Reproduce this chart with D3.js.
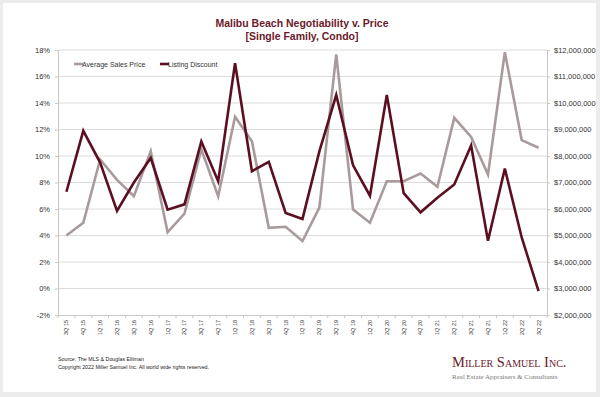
<!DOCTYPE html>
<html>
<head>
<meta charset="utf-8">
<script src="https://cdnjs.cloudflare.com/ajax/libs/d3/7.8.5/d3.min.js"></script>
<style>
  html, body { margin: 0; padding: 0; background: #ececec; }
  #chart { width: 600px; height: 397px; }
  text { font-family: "Liberation Sans", Arial, sans-serif; }
</style>
</head>
<body>
<div id="chart"></div>
<script>
// data
const quarters = ["3Q 15","4Q 15","1Q 16","2Q 16","3Q 16","4Q 16","1Q 17","2Q 17","3Q 17","4Q 17",
  "1Q 18","2Q 18","3Q 18","4Q 18","1Q 19","2Q 19","3Q 19","4Q 19","1Q 20","2Q 20","3Q 20","4Q 20",
  "1Q 21","2Q 21","3Q 21","4Q 21","1Q 22","2Q 22","3Q 22"]
const avgPrice = [5000000, 5480000, 7870000, 7100000, 6480000, 8180000, 5120000, 5830000, 8250000, 6480000,
  9480000, 8560000, 5290000, 5330000, 4790000, 6050000, 11830000, 5980000, 5480000, 7050000, 7050000, 7340000,
  6840000, 9440000, 8720000, 7300000, 11920000, 8600000, 8310000]
const listingDiscount = [7.3, 11.9, 9.5, 5.85, 8.0, 9.85, 5.95, 6.35, 11.1, 8.1,
  17.0, 8.85, 9.55, 5.7, 5.25, 10.35, 14.6, 9.3, 7.0, 14.6, 7.2, 5.75,
  6.85, 7.85, 10.8, 3.6, 9.05, 3.85, -0.2]
const pctTicks = [-2, 0, 2, 4, 6, 8, 10, 12, 14, 16, 18]
const priceTicks = [2, 3, 4, 5, 6, 7, 8, 9, 10, 11, 12].map(d => d * 1000000)

const width = 600
const height = 397
const margins = {top: 50, right: 53, bottom: 82, left: 58}
const boundedWidth = width - margins.left - margins.right
const boundedHeight = height - margins.top - margins.bottom

const priceColor = "#a99b9b"
const discountColor = "#5c0f20"
const titleColor = "#6a1a2b"
const sans = "'Liberation Sans', Arial, sans-serif"
const serif = "'Liberation Serif', 'DejaVu Serif', serif"

const svg = d3.select("#chart").append("svg")
  .attr("width", width)
  .attr("height", height)

// card
svg.append("rect")
  .attr("x", 3).attr("y", 3)
  .attr("width", width - 7).attr("height", height - 8)
  .attr("fill", "white")

// title
svg.append("text")
  .attr("x", 302).attr("y", 27)
  .attr("text-anchor", "middle")
  .attr("font-size", 10.5).attr("font-weight", "bold")
  .attr("fill", titleColor)
  .text("Malibu Beach Negotiability v. Price")
svg.append("text")
  .attr("x", 302).attr("y", 40)
  .attr("text-anchor", "middle")
  .attr("font-size", 10.5).attr("font-weight", "bold")
  .attr("fill", titleColor)
  .text("[Single Family, Condo]")

const bounds = svg.append("g")
  .attr("transform", `translate(${margins.left}, ${margins.top})`)

// scales
const xScale = d3.scaleBand()
  .domain(quarters)
  .range([0, boundedWidth])
const xPos = d => xScale(d) + xScale.bandwidth() / 2

const yScale = d3.scaleLinear()
  .domain([-2, 18])
  .range([boundedHeight, 0])

const priceScale = d3.scaleLinear()
  .domain([2000000, 12000000])
  .range([boundedHeight, 0])

// gridlines
bounds.append("g")
  .selectAll("line")
  .data(pctTicks.filter(d => d > -2))
  .join("line")
    .attr("x1", 0).attr("x2", boundedWidth)
    .attr("y1", d => yScale(d)).attr("y2", d => yScale(d))
    .attr("stroke", "#dcdcdc").attr("stroke-width", 1)

// left axis
const yAxis = bounds.append("g")
  .call(d3.axisLeft(yScale).tickValues(pctTicks).tickFormat(d => d + "%").tickSize(3).tickPadding(5))
yAxis.select(".domain").attr("stroke", "#c8c8c8")
yAxis.selectAll(".tick line").attr("stroke", "#c8c8c8")
yAxis.selectAll("text").attr("font-size", 7.5).attr("fill", "#333").style("font-family", sans)

// right axis
const priceAxis = bounds.append("g")
  .attr("transform", `translate(${boundedWidth}, 0)`)
  .call(d3.axisRight(priceScale).tickValues(priceTicks).tickFormat(d3.format("$,.0f")).tickSize(3).tickPadding(4))
priceAxis.select(".domain").attr("stroke", "#c8c8c8")
priceAxis.selectAll(".tick line").attr("stroke", "#c8c8c8")
priceAxis.selectAll("text").attr("font-size", 7.5).attr("fill", "#333").style("font-family", sans)

// bottom axis
const xAxis = bounds.append("g")
  .attr("transform", `translate(0, ${boundedHeight})`)
  .call(d3.axisBottom(xScale).tickSize(0).tickPadding(0))
xAxis.select(".domain").attr("stroke", "#c8c8c8")
xAxis.selectAll(".tick text")
  .attr("font-size", 5.5).attr("fill", "#333")
  .style("font-family", sans)
  .attr("transform", "rotate(-90)")
  .attr("text-anchor", "end")
  .attr("x", -5).attr("y", 0).attr("dy", "0.35em")
// tick marks between categories
xAxis.append("g")
  .selectAll("line")
  .data(quarters.concat(["end"]))
  .join("line")
    .attr("x1", (d, i) => i * xScale.bandwidth())
    .attr("x2", (d, i) => i * xScale.bandwidth())
    .attr("y1", 0).attr("y2", 3)
    .attr("stroke", "#c8c8c8")

// lines
const priceLine = d3.line()
  .x((d, i) => xPos(quarters[i]))
  .y(d => priceScale(d))
const discountLine = d3.line()
  .x((d, i) => xPos(quarters[i]))
  .y(d => yScale(d))

bounds.append("path")
  .datum(avgPrice)
  .attr("d", priceLine)
  .attr("fill", "none")
  .attr("stroke", priceColor)
  .attr("stroke-width", 2.6)
  .attr("stroke-linejoin", "miter")

bounds.append("path")
  .datum(listingDiscount)
  .attr("d", discountLine)
  .attr("fill", "none")
  .attr("stroke", discountColor)
  .attr("stroke-width", 2.6)
  .attr("stroke-linejoin", "miter")

// legend
const legend = svg.append("g").attr("transform", "translate(74, 64)")
const legendItems = [
  {label: "Average Sales Price", color: priceColor, x: 0},
  {label: "Listing Discount", color: discountColor, x: 86}
]
legend.selectAll("g")
  .data(legendItems)
  .join("g")
    .attr("transform", d => `translate(${d.x}, 0)`)
    .call(g => g.append("line")
      .attr("x1", 0).attr("x2", 9).attr("y1", 0).attr("y2", 0)
      .attr("stroke", d => d.color).attr("stroke-width", 2.6))
    .call(g => g.append("text")
      .attr("x", 8).attr("y", 2.5)
      .attr("font-size", 7).attr("fill", "#333")
      .text(d => d.label))

// footer
svg.append("text")
  .attr("x", 58).attr("y", 361)
  .attr("font-size", 5.3).attr("fill", "#222")
  .text("Source: The MLS & Douglas Elliman")
svg.append("text")
  .attr("x", 58).attr("y", 369)
  .attr("font-size", 5.3).attr("fill", "#222")
  .text("Copyright 2022 Miller Samuel Inc.  All world wide rights reserved.")

// logo
svg.append("text")
  .attr("x", 452).attr("y", 367)
  .style("font-family", serif)
  .attr("font-size", 14.5)
  .attr("fill", titleColor)
  .style("font-variant", "small-caps")
  .text("Miller Samuel Inc.")
svg.append("text")
  .attr("x", 452).attr("y", 379)
  .style("font-family", serif)
  .attr("font-size", 7)
  .attr("fill", "#777")
  .text("Real Estate Appraisers & Consultants")
</script>
</body>
</html>
